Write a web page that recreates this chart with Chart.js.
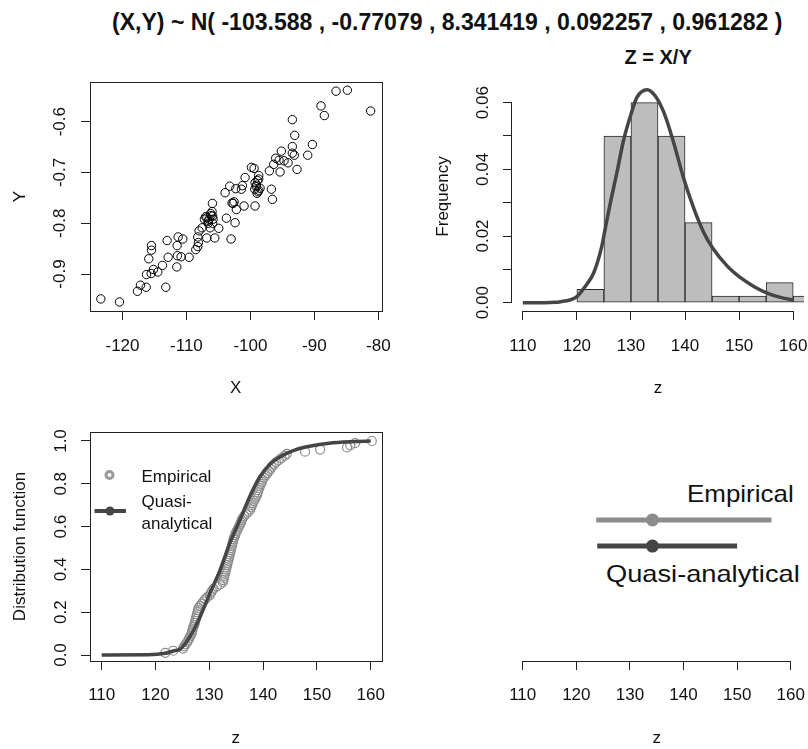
<!DOCTYPE html>
<html>
<head>
<meta charset="utf-8">
<script src="https://cdn.jsdelivr.net/npm/chart.js@4.4.1/dist/chart.umd.min.js"></script>
<style>
  body { margin: 0; background: #fff; width: 808px; height: 749px; overflow: hidden; position: relative;
         font-family: "Liberation Sans", Arial, sans-serif; }
  canvas { position: absolute; }
  .txt { position: absolute; white-space: nowrap; line-height: 1; transform-origin: left center; color: #111; }
</style>
</head>
<body>
<div id="mainTitle" class="txt" style="font-weight:bold;font-size:24px;">(X,Y) ~ N( -103.588 , -0.77079 , 8.341419 , 0.092257 , 0.961282 )</div>
<div id="histTitle" class="txt" style="font-weight:bold;font-size:20px;">Z = X/Y</div>
<div id="empLabel" class="txt" style="font-size:24px;">Empirical</div>
<div id="quasiLabel" class="txt" style="font-size:24px;">Quasi-analytical</div>

<canvas id="scatter" width="404" height="364" style="left:0;top:40px"></canvas>
<canvas id="hist" width="404" height="364" style="left:404px;top:40px"></canvas>
<canvas id="ecdf" width="404" height="345" style="left:0;top:404px"></canvas>
<canvas id="intervals" width="404" height="345" style="left:404px;top:404px"></canvas>

<script>
// ---- (X,Y) sample ----
const sampleX = [-123.39, -120.47, -117.66, -117.19, -116.30, -113.23, -116.25, -115.52, -115.16, -114.48,
  -113.75, -115.89, -115.47, -115.47, -112.86, -113.02, -111.51, -111.41, -110.83, -109.58,
  -111.46, -111.30, -110.57, -108.54, -108.23, -108.13, -108.23, -108.02, -107.55, -106.82,
  -105.57, -107.19, -106.98, -106.61, -106.15, -105.99, -105.94, -106.30, -105.89, -104.95,
  -106.46, -105.83, -103.75, -103.02, -102.40, -103.96, -103.23, -102.29, -101.41, -101.25,
  -102.86, -102.55, -102.19, -100.99, -100.83, -99.84, -99.43, -98.70, -98.70, -99.27,
  -99.06, -98.70, -99.32, -98.96, -99.27, -98.49, -97.03, -96.35, -96.04, -95.52,
  -95.16, -95.36, -96.72, -96.56, -94.74, -94.11, -93.44, -93.07, -93.44, -93.13,
  -93.44, -92.71, -91.04, -90.31, -88.96, -88.44, -86.61, -84.84, -81.20,
  -106.80, -106.20, -105.90, -106.60, -98.90, -99.10, -98.80, -102.70];
const sampleY = [-0.949, -0.955, -0.934, -0.922, -0.926, -0.926, -0.901, -0.899, -0.891, -0.896,
  -0.883, -0.870, -0.853, -0.844, -0.867, -0.834, -0.886, -0.864, -0.866, -0.867,
  -0.844, -0.827, -0.831, -0.852, -0.846, -0.838, -0.827, -0.815, -0.809, -0.829,
  -0.829, -0.792, -0.787, -0.796, -0.785, -0.777, -0.761, -0.809, -0.800, -0.810,
  -0.792, -0.792, -0.790, -0.831, -0.799, -0.740, -0.727, -0.732, -0.733, -0.726,
  -0.760, -0.758, -0.773, -0.766, -0.710, -0.690, -0.692, -0.706, -0.713, -0.720,
  -0.725, -0.735, -0.733, -0.741, -0.766, -0.731, -0.697, -0.684, -0.672, -0.676,
  -0.658, -0.699, -0.733, -0.753, -0.677, -0.681, -0.596, -0.627, -0.649, -0.666,
  -0.662, -0.694, -0.666, -0.645, -0.569, -0.588, -0.540, -0.538, -0.579,
  -0.789, -0.781, -0.786, -0.800, -0.716, -0.728, -0.738, -0.761];
const xTicks = [-120, -110, -100, -90, -80];
const yTicks = [-0.9, -0.8, -0.7, -0.6];

// ---- histogram of Z = X/Y and its density ----
const binMids = [122.5, 127.5, 132.5, 137.5, 142.5, 147.5, 152.5, 157.5, 162.5];
const binDensity = [0.004, 0.05, 0.06, 0.05, 0.024, 0.002, 0.002, 0.006, 0.002];
const densZ = [110, 112, 114, 116, 117, 118.7, 120, 121.5, 123.1, 124.6, 125.2, 126.2, 127.4, 128.6, 129.9,
  131.1, 133.0, 134.5, 136.1, 137.9, 139.8, 141.7, 143.5, 145.1, 147.9, 150, 152.8, 155.3, 157.8, 160];
const densY = [0, 0, 0, 0.0001, 0.0003, 0.0008, 0.0018, 0.0048, 0.0089, 0.0169, 0.0219, 0.030, 0.039, 0.0485, 0.056,
  0.0616, 0.0639, 0.062, 0.057, 0.048, 0.037, 0.0279, 0.0209, 0.0164, 0.0108, 0.0078, 0.0048, 0.0028, 0.0015, 0.0008];
const zTicks = [110, 120, 130, 140, 150, 160];
const densTicks = [0, 0.01, 0.02, 0.03, 0.04, 0.05, 0.06];

// ---- distribution function ----
const empZ = [121.8, 123.3,
  125.1, 125.3, 125.6, 125.9, 126.1, 126.3, 126.5, 126.7, 126.8, 126.9,
  127.0, 127.2, 127.3, 127.4, 127.5, 127.6, 127.7, 127.8, 127.9, 128.0,
  128.3, 128.6, 128.9, 129.2, 129.6,
  130.1, 130.3, 130.5, 130.8, 131.4, 132.0, 132.5, 132.6, 132.7, 132.8,
  132.9, 133.0, 133.1, 133.2, 133.3, 133.4, 133.5, 133.6, 133.7, 133.8,
  133.9, 134.0, 134.1, 134.2, 134.3, 134.4, 134.5, 134.6, 134.8, 134.9,
  135.1, 135.3, 135.5, 135.7, 135.9, 136.0, 136.2, 136.5, 136.9, 137.3,
  137.6, 137.8, 137.9, 138.1, 138.3, 138.5, 138.7, 138.9, 139.0, 139.1,
  139.3, 139.4, 139.6, 139.8, 139.9,
  140.2, 140.5, 140.8, 141.1, 141.4, 141.6, 142.0, 142.4, 142.9, 143.4, 144.0, 144.4,
  147.8, 150.6, 155.6, 156.2, 157.1, 160.2];
const empF = [0.01, 0.02, 0.03, 0.04, 0.05, 0.06, 0.07, 0.08, 0.09, 0.10,
  0.11, 0.12, 0.13, 0.14, 0.15, 0.16, 0.17, 0.18, 0.19, 0.20,
  0.21, 0.22, 0.23, 0.24, 0.25, 0.26, 0.27, 0.28, 0.29, 0.30,
  0.31, 0.32, 0.33, 0.34, 0.35, 0.36, 0.37, 0.38, 0.39, 0.40,
  0.41, 0.42, 0.43, 0.44, 0.45, 0.46, 0.47, 0.48, 0.49, 0.50,
  0.51, 0.52, 0.53, 0.54, 0.55, 0.56, 0.57, 0.58, 0.59, 0.60,
  0.61, 0.62, 0.63, 0.64, 0.65, 0.66, 0.67, 0.68, 0.69, 0.70,
  0.71, 0.72, 0.73, 0.74, 0.75, 0.76, 0.77, 0.78, 0.79, 0.80,
  0.81, 0.82, 0.83, 0.84, 0.85, 0.86, 0.87, 0.88, 0.89, 0.90,
  0.91, 0.92, 0.93, 0.94, 0.95, 0.96, 0.97, 0.98, 0.99, 1.00];
const cdfZ = [110, 118.7, 121.8, 123.3, 124.55, 126.4, 128.3, 130.1, 132.0, 133.8, 135.7, 137.5, 139.4,
  141.3, 143.1, 145.6, 148.1, 153.0, 160];
const cdfF = [0, 0.001, 0.008, 0.019, 0.027, 0.086, 0.179, 0.288, 0.397, 0.522, 0.631, 0.74, 0.833,
  0.893, 0.925, 0.955, 0.973, 0.992, 1.0];
const fTicks = [0, 0.2, 0.4, 0.6, 0.8, 1.0];

// ---- intervals (lower-right panel) ----
const intervalLow = [123.7, 123.9];
const intervalHigh = [156.4, 150.0];
const intervalMid = [134.2, 134.2];

const FONT = '"Liberation Sans", Arial, sans-serif';
const INK = '#111';
const EMP_GREY = '#8c8c8c';
const DARK = '#454545';
const rowLevel = [0.616, 0.502];

function xAxis(min, max, ticks, title, height, labelPad, titlePad) {
	return {
		type: "linear", min, max, offset: false,
		afterBuildTicks: (s) => { s.ticks = ticks.map((v) => ({ value: v })); },
		afterFit: (s) => {
			s.height = height;
			// labels may overhang the plot edge, like in R
			s.paddingLeft = 0;
			s.paddingRight = 0;
		},
		grid: { drawOnChartArea: false, drawTicks: true, tickLength: 9, color: "#222", lineWidth: 1, offset: false },
		border: { display: false },
		ticks: { color: INK, font: { family: FONT, size: 17 }, padding: labelPad, maxRotation: 0, autoSkip: false,
			callback: (v) => String(v) },
		title: { display: true, text: title, color: INK, font: { family: FONT, size: 17 }, padding: { top: 0, bottom: titlePad } },
	};
}

function yAxis(min, max, ticks, fmt, title, width, labelPad, titlePad) {
	return {
		type: "linear", min, max,
		afterBuildTicks: (s) => { s.ticks = ticks.map((v) => ({ value: v })); },
		afterFit: (s) => {
			s.width = width;
			s.paddingTop = 0;
			s.paddingBottom = 0;
		},
		grid: { drawOnChartArea: false, drawTicks: true, tickLength: 9, color: "#222", lineWidth: 1 },
		border: { display: false },
		ticks: { color: INK, font: { family: FONT, size: 17 }, padding: labelPad, minRotation: 90, maxRotation: 90,
			crossAlign: "center", autoSkip: false, callback: fmt },
		title: { display: true, text: title, color: INK, font: { family: FONT, size: 17 }, padding: { top: titlePad, bottom: 0 } },
	};
}

// box or R-style axis lines, drawn from the chart's own scales
const rAxes = {
	id: "rAxes",
	afterDatasetsDraw(chart, args, opts) {
		const { ctx, chartArea: a, scales } = chart;
		ctx.save();
		ctx.strokeStyle = "#222";
		ctx.lineWidth = 1;
		if (opts.box) {
			ctx.strokeRect(Math.round(a.left) + 0.5, Math.round(a.top) + 0.5,
				Math.round(a.right - a.left), Math.round(a.bottom - a.top));
		}
		if (opts.xFrom !== undefined) {
			const y0 = Math.round(a.bottom) + 0.5;
			ctx.beginPath();
			ctx.moveTo(scales.x.getPixelForValue(opts.xFrom), y0);
			ctx.lineTo(scales.x.getPixelForValue(opts.xTo), y0);
			ctx.stroke();
		}
		if (opts.yFrom !== undefined) {
			const x0 = Math.round(a.left) - 0.5;
			ctx.beginPath();
			ctx.moveTo(x0, scales.y.getPixelForValue(opts.yFrom));
			ctx.lineTo(x0, scales.y.getPixelForValue(opts.yTo));
			ctx.stroke();
		}
		ctx.restore();
	},
};

// legend of the distribution-function panel
const ecdfLegend = {
	id: "ecdfLegend",
	afterDraw(chart) {
		const { ctx, chartArea: a } = chart;
		const L = a.left, T = a.top;
		ctx.save();
		ctx.strokeStyle = "#999";
		ctx.lineWidth = 3;
		ctx.beginPath();
		ctx.arc(L + 19.5, T + 43, 3.5, 0, Math.PI * 2);
		ctx.stroke();
		ctx.strokeStyle = DARK;
		ctx.lineWidth = 4;
		ctx.beginPath();
		ctx.moveTo(L + 4.5, T + 79);
		ctx.lineTo(L + 36, T + 79);
		ctx.stroke();
		ctx.fillStyle = DARK;
		ctx.beginPath();
		ctx.arc(L + 20, T + 79, 4.5, 0, Math.PI * 2);
		ctx.fill();
		ctx.fillStyle = INK;
		ctx.font = "17px " + FONT;
		ctx.textBaseline = "middle";
		ctx.fillText("Empirical", L + 51.5, T + 45.5);
		ctx.fillText("Quasi-", L + 51.5, T + 70.5);
		ctx.fillText("analytical", L + 51.5, T + 92.5);
		ctx.restore();
	},
};

function baseOptions(padding) {
	return {
		responsive: false, animation: false, devicePixelRatio: 1, events: [],
		layout: { padding },
		plugins: { legend: { display: false }, tooltip: { enabled: false } },
	};
}

// upper left: scatter of the sample
const opt1 = baseOptions({ top: 42, right: 22.5, left: 0, bottom: 0 });
opt1.scales = {
	x: xAxis(-125.08, -79.5, xTicks, "X", 93, 16.5, 5.8),
	y: yAxis(-0.9728, -0.5219, yTicks, (v) => v.toFixed(1), "Y", 90, 6.3, 9.8),
};
opt1.plugins.rAxes = { box: true };
new Chart(document.getElementById("scatter"), {
	type: "scatter",
	data: { datasets: [{
		data: sampleX.map((x, i) => ({ x, y: sampleY[i] })),
		pointRadius: 4.2, borderColor: "#000", borderWidth: 1, backgroundColor: "rgba(0,0,0,0)",
	}] },
	options: opt1,
	plugins: [rAxes],
});

// upper right: histogram with density
const opt2 = baseOptions({ top: 42, right: 4, left: 0, bottom: 0 });
opt2.scales = {
	x: xAxis(108, 162, zTicks, "z", 93, 16.5, 5.8),
	y: yAxis(-0.0025, 0.0662, densTicks, (v, i) => (i % 2 === 0 ? v.toFixed(2) : ""), "Frequency", 108, 3.2, 28.8),
};
opt2.plugins.rAxes = { xFrom: 110, xTo: 160, yFrom: 0, yTo: 0.06 };
new Chart(document.getElementById("hist"), {
	type: "bar",
	data: { datasets: [
		{ type: "line", data: densZ.map((z, i) => ({ x: z, y: densY[i] })), borderColor: DARK, borderWidth: 3.5,
			pointRadius: 0, cubicInterpolationMode: "monotone", order: 0 },
		{ type: "bar", data: binMids.map((m, i) => ({ x: m, y: binDensity[i] })), backgroundColor: "#bdbdbd",
			borderColor: "#2a2a2a", borderWidth: 1, borderSkipped: false, barPercentage: 1, categoryPercentage: 1, order: 1 },
	] },
	options: opt2,
	plugins: [rAxes],
});

// lower left: distribution function
const opt3 = baseOptions({ top: 28, right: 22.5, left: 0, bottom: 0 });
opt3.scales = {
	x: xAxis(107.83, 162.0, zTicks, "z", 88, 14.8, 0),
	y: yAxis(-0.028, 1.042, fTicks, (v) => v.toFixed(1), "Distribution function", 90, 7.5, 9.8),
};
opt3.plugins.rAxes = { box: true };
new Chart(document.getElementById("ecdf"), {
	type: "scatter",
	data: { datasets: [
		{ data: cdfZ.map((z, i) => ({ x: z, y: cdfF[i] })), showLine: true, borderColor: DARK, borderWidth: 3.5,
			pointRadius: 0, cubicInterpolationMode: "monotone", order: 0 },
		{ data: empZ.map((z, i) => ({ x: z, y: empF[i] })), pointRadius: 4.5, borderColor: EMP_GREY,
			borderWidth: 1.2, backgroundColor: "rgba(0,0,0,0)", order: 1 },
	] },
	options: opt3,
	plugins: [rAxes, ecdfLegend],
});

// lower right: intervals
const opt4 = baseOptions({ top: 28, right: 4, left: 108, bottom: 0 });
opt4.scales = {
	x: xAxis(108, 162, zTicks, "z", 88, 14.8, 0),
	y: { display: false, min: 0, max: 1 },
};
opt4.plugins.rAxes = { xFrom: 110, xTo: 160 };
const rowColors = [EMP_GREY, DARK];
const intervalSets = [];
intervalLow.forEach((lo, i) => {
	intervalSets.push({ data: [{ x: lo, y: rowLevel[i] }, { x: intervalHigh[i], y: rowLevel[i] }], showLine: true,
		borderColor: rowColors[i], borderWidth: 5, borderCapStyle: "butt", pointRadius: 0 });
	intervalSets.push({ data: [{ x: intervalMid[i], y: rowLevel[i] }], pointRadius: 6.5, borderWidth: 0,
		backgroundColor: rowColors[i] });
});
new Chart(document.getElementById("intervals"), {
	type: "scatter",
	data: { datasets: intervalSets },
	options: opt4,
	plugins: [rAxes],
});

// text placed over the page
function place(id, left, right, cy) {
	const el = document.getElementById(id);
	const fs = parseFloat(getComputedStyle(el).fontSize);
	el.style.left = left + "px";
	el.style.top = (cy - fs / 2) + "px";
	if (right !== null) el.style.transform = `scaleX(${(right - left) / el.offsetWidth})`;
}
place("mainTitle", 112, 782, 22);
const ht = document.getElementById("histTitle");
place("histTitle", 658 - ht.offsetWidth / 2, null, 57);
place("empLabel", 687, 794, 494);
place("quasiLabel", 606, 800, 574);
</script>
</body>
</html>
